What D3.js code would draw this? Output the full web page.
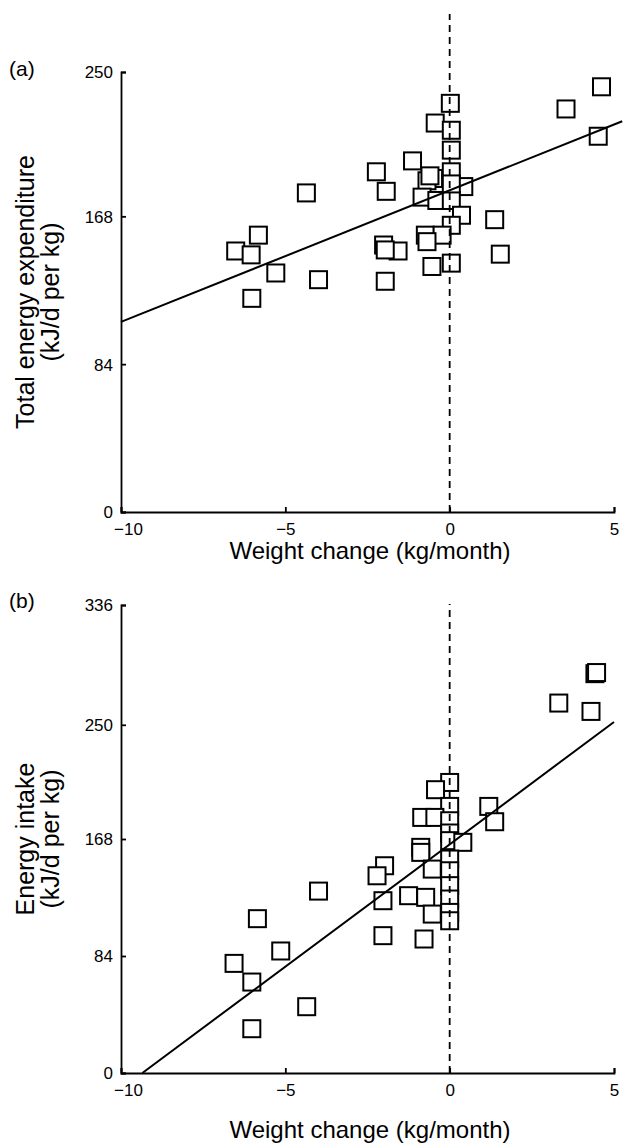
<!DOCTYPE html>
<html><head><meta charset="utf-8">
<script src="https://cdn.jsdelivr.net/npm/d3@7"></script>
<style>
html,body{margin:0;padding:0;background:#fff;}
svg text{font-family:"Liberation Sans",Arial,sans-serif;fill:#000;}
</style></head>
<body>
<svg id="c" width="629" height="1146"></svg>
<script>
// Panel (a): total energy expenditure (kJ/d per kg) vs weight change (kg/month)
const teeX = [4.62, 3.54, 4.52, 0.02, -0.44, 0.05, 0.05, -1.13, -2.23, -1.93, -4.36, 0.05, -0.49, -0.69, 0.43, -0.84, -0.39, 0.05, 0.36, 0.05, 1.37, -0.74, -0.23, -2.01, -1.57, 1.54, -0.54, 0.05, -5.82, -6.51, -6.04, -5.29, -3.99, -1.96, -6.02, -0.69, -1.96, -0.6, 0.05];
const teeY = [241.6, 229.0, 213.5, 232.2, 221.0, 216.9, 205.6, 199.5, 193.3, 182.2, 181.3, 193.3, 189.5, 188.2, 184.9, 178.9, 177.0, 177.0, 168.6, 162.9, 166.1, 157.3, 157.3, 151.7, 148.3, 146.5, 139.5, 141.4, 157.3, 148.3, 146.1, 135.8, 132.0, 131.1, 121.4, 153.6, 148.9, 191, 186.4];
const fitAX = [-10, 5.25];
const fitAY = [108, 222];
const yTicksA = [0, 84, 168, 250];

// Panel (b): energy intake (kJ/d per kg) vs weight change (kg/month)
const eiX = [4.42, 4.47, 3.32, 4.3, 0, -0.43, 0, -0.85, -0.45, 0, 1.19, 1.37, 0, 0, 0.4, -0.88, -0.88, 0, 0, -1.98, -2.21, -0.53, 0, 0, 0, 0, -1.25, -0.73, -2.03, -0.53, -2.03, -0.78, -3.99, -5.85, -5.14, -6.56, -6.02, -4.35, -6.02];
const eiY = [286.7, 287.5, 265.6, 259.6, 208.6, 203.4, 191.4, 183.5, 183.5, 181.1, 191.4, 180.4, 172.3, 166.8, 165.6, 162, 158.4, 153.6, 145.2, 148.8, 141.6, 146.4, 134.5, 124.9, 115.3, 109.3, 127.3, 126.1, 123.7, 114.1, 98.6, 96.2, 130.6, 110.8, 87.6, 78.7, 65.3, 47.6, 31.8];
const fitBX = [-9.35, 5];
const fitBY = [0, 252];
const yTicksB = [0, 84, 168, 250, 336];

const xTicks = [-10, -5, 0, 5];
const xTitle = "Weight change (kg/month)";

const svg = d3.select("#c");
const x = d3.scaleLinear().domain([-10,5]).range([121,614]);

function panel(o){
  const y = d3.scaleLinear().domain([0,o.ymax]).range([o.bottom,o.top]);
  const g = svg.append("g");
  const pts = o.xs.map((v,i)=>[v,o.ys[i]]);
  const S = 17;
  g.selectAll("rect.pt").data(pts).join("rect")
    .attr("class","pt")
    .attr("x",d=>x(d[0])-S/2).attr("y",d=>y(d[1])-S/2)
    .attr("width",S).attr("height",S)
    .attr("fill","#fff").attr("stroke","#000").attr("stroke-width",2);
  // dashed zero line
  g.append("line").attr("x1",x(0)).attr("x2",x(0))
    .attr("y1",y(0)).attr("y2",o.dashTopPx)
    .attr("stroke","#000").attr("stroke-width",1.8).attr("stroke-dasharray","7,5");
  // regression line
  g.append("line").attr("x1",x(o.fx[0])).attr("y1",y(o.fy[0]))
    .attr("x2",x(o.fx[1])).attr("y2",y(o.fy[1]))
    .attr("stroke","#000").attr("stroke-width",2);
  const ax = g.append("g").attr("transform",`translate(0,${o.bottom})`)
    .call(d3.axisBottom(x).tickValues(xTicks).tickSize(-5).tickSizeOuter(-5).tickPadding(11));
  const ay = g.append("g").attr("transform",`translate(${x.range()[0]},0)`)
    .call(d3.axisLeft(y).tickValues(o.yticks).tickSize(-5).tickSizeOuter(-5).tickPadding(8));
  [ax,ay].forEach(a=>{
    a.selectAll("path,line").attr("stroke","#000").attr("stroke-width",1.8);
    a.selectAll("text").style("font-size","17px").attr("fill","#000");
  });
  ax.selectAll("text").filter(d=>d===-10).attr("dx",7);
  ay.selectAll("text").attr("dy","0.35em");
  svg.append("text").attr("x",9).attr("y",o.labelY).style("font-size","21px").text(o.label);
  const yt = svg.append("text").attr("transform",`translate(0,${(o.top+o.bottom)/2}) rotate(-90)`)
    .attr("text-anchor","middle").style("font-size","25px");
  yt.append("tspan").attr("x",0).attr("y",34).text(o.t1);
  yt.append("tspan").attr("x",0).attr("y",59).text(o.t2);
  svg.append("text").attr("x",370).attr("y",o.bottom+o.titleGap).attr("text-anchor","middle")
    .style("font-size","24px").text(xTitle);
}

panel({xs:teeX, ys:teeY, fx:fitAX, fy:fitAY, ymax:250, top:72, bottom:512, yticks:yTicksA,
  dashTopPx:14, label:"(a)", labelY:76, t1:"Total energy expenditure", t2:"(kJ/d per kg)", titleGap:47});
panel({xs:eiX, ys:eiY, fx:fitBX, fy:fitBY, ymax:336, top:605, bottom:1073, yticks:yTicksB,
  dashTopPx:604, label:"(b)", labelY:608, t1:"Energy intake", t2:"(kJ/d per kg)", titleGap:65});
</script>
</body></html>
